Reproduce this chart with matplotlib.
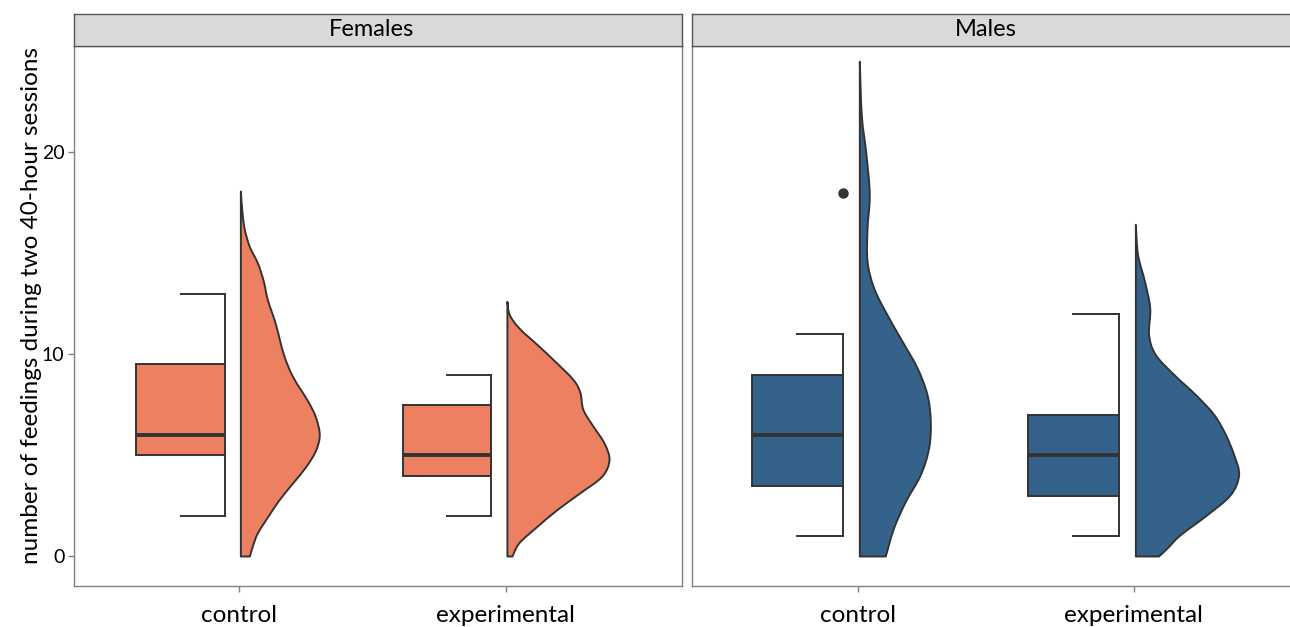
import matplotlib
matplotlib.use("Agg")
import matplotlib.pyplot as plt
from matplotlib.patches import Rectangle, PathPatch
from matplotlib.path import Path

plt.rcParams['font.family'] = ['Lato', 'DejaVu Sans']

# ---- data ----
panels = ["Females", "Males"]
groups = ["control", "experimental"]
fill_colors = {"Females": "#EE8062", "Males": "#35628A"}

# boxplot stats: (whisker low, q1, median, q3, whisker high)
box_stats = {
    ("Females", "control"): (2, 5, 6, 9.5, 13),
    ("Females", "experimental"): (2, 4, 5, 7.5, 9),
    ("Males", "control"): (1, 3.5, 6, 9, 11),
    ("Males", "experimental"): (1, 3, 5, 7, 12),
}
outliers = {
    ("Males", "control"): [18],
}

# half-violin outline: value levels and half-widths (x-axis units)
fc_y = [18.05, 17.0, 16.15, 15.3, 14.5, 13.6, 12.7, 11.5, 10.0, 8.9, 7.7,
        6.9, 6.0, 5.2, 4.4, 3.6, 2.8, 2.0, 1.15, 0.5, 0.0]
fc_w = [0.0, 0.006, 0.015, 0.034, 0.064, 0.086, 0.101, 0.131, 0.161, 0.195, 0.251,
        0.281, 0.296, 0.281, 0.244, 0.195, 0.146, 0.105, 0.064, 0.045, 0.034]
fe_y = [12.6, 11.94, 11.28, 10.46, 9.72, 8.73, 8.08, 7.25, 6.42, 5.6, 4.77,
        3.95, 3.13, 2.3, 1.47, 0.66, 0.0]
fe_w = [0.0, 0.009, 0.045, 0.113, 0.173, 0.248, 0.274, 0.285, 0.323, 0.364, 0.383,
        0.356, 0.274, 0.188, 0.113, 0.045, 0.019]
mc_y = [24.47, 21.83, 19.86, 17.88, 16.23, 14.58, 13.26, 11.94, 10.62, 9.31,
        7.99, 6.67, 5.35, 4.03, 2.71, 1.39, 0.0]
mc_w = [0.0, 0.007, 0.024, 0.036, 0.028, 0.028, 0.052, 0.1, 0.155, 0.209,
        0.245, 0.257, 0.251, 0.221, 0.167, 0.124, 0.094]
me_y = [16.4, 14.91, 13.59, 12.27, 10.95, 9.97, 8.98, 7.99, 7.0, 6.01, 5.02,
        4.03, 3.04, 2.05, 1.06, 0.4, 0.0]
me_w = [0.0, 0.008, 0.033, 0.052, 0.048, 0.072, 0.139, 0.217, 0.284, 0.326, 0.356,
        0.374, 0.344, 0.26, 0.163, 0.115, 0.084]
violins = {
    ("Females", "control"): (fc_y, fc_w),
    ("Females", "experimental"): (fe_y, fe_w),
    ("Males", "control"): (mc_y, mc_w),
    ("Males", "experimental"): (me_y, me_w),
}

y_label = "number of feedings during two 40-hour sessions"
y_ticks = [0, 10, 20]


def smooth_outline(pts):
    """Catmull-Rom curve through the outline points, as Bezier path codes."""
    verts = [pts[0]]
    codes = [Path.LINETO]
    for k in range(len(pts) - 1):
        p0 = pts[k - 1] if k > 0 else pts[k]
        p1, p2 = pts[k], pts[k + 1]
        p3 = pts[k + 2] if k + 2 < len(pts) else pts[k + 1]
        c1 = (p1[0] + (p2[0] - p0[0]) / 6, p1[1] + (p2[1] - p0[1]) / 6)
        c2 = (p2[0] - (p3[0] - p1[0]) / 6, p2[1] - (p3[1] - p1[1]) / 6)
        verts += [c1, c2, p2]
        codes += [Path.CURVE4] * 3
    return verts, codes


# ---- layout (pixel based, figure is 1290 x 627) ----
W, H = 1290, 627
fig = plt.figure(figsize=(W / 100, H / 100), dpi=100)

panel_px = {"Females": (74, 682), "Males": (692, 1299)}
xlims = {"Females": (0.381, 2.662), "Males": (0.399, 2.598)}
strip_text_x = {"Females": 0.489, "Males": 0.484}
top_px, bottom_px, strip_top_px = 46, 586, 14
line_col = "#333333"
frame_col = "#808080"
lw = 1.4

for panel in panels:
    x0, x1 = panel_px[panel]
    ax = fig.add_axes([x0 / W, (H - bottom_px) / H, (x1 - x0) / W, (bottom_px - top_px) / H])
    ax.set_xlim(*xlims[panel])
    ax.set_ylim(-1.46, 25.25)

    for i, grp in enumerate(groups):
        c = i + 1
        col = fill_colors[panel]
        lo, q1, med, q3, hi = box_stats[(panel, grp)]
        bl, br = c - 0.385, c - 0.053
        bm = (bl + br) / 2
        # whisker sits on the right edge of the box
        ax.plot([br, br], [lo, q1], color=line_col, lw=lw, zorder=2)
        ax.plot([br, br], [q3, hi], color=line_col, lw=lw, zorder=2)
        ax.plot([bm, br], [lo, lo], color=line_col, lw=lw, zorder=2)
        ax.plot([bm, br], [hi, hi], color=line_col, lw=lw, zorder=2)
        ax.add_patch(Rectangle((bl, q1), br - bl, q3 - q1, facecolor=col,
                               edgecolor=line_col, lw=lw, zorder=3))
        ax.plot([bl + 0.003, br - 0.003], [med, med], color=line_col, lw=2.8, zorder=4,
                solid_capstyle="butt")
        for o in outliers.get((panel, grp), []):
            ax.plot(br, o, "o", color=line_col, ms=6.5, zorder=5)

        # half violin
        vy, vw = violins[(panel, grp)]
        base = c + 0.007
        outline = [(base + w, y) for y, w in zip(vy, vw)]
        verts, codes = smooth_outline(outline)
        verts = [(base, vy[0])] + verts + [(base, vy[-1]), (base, vy[0])]
        codes = [Path.MOVETO] + codes + [Path.LINETO, Path.CLOSEPOLY]
        ax.add_patch(PathPatch(Path(verts, codes), facecolor=col, edgecolor=line_col,
                               lw=lw, joinstyle="round", zorder=3))

    ax.set_xticks([1, 2])
    ax.set_xticklabels(groups, fontsize=17.5)
    ax.tick_params(axis="x", length=4, width=1, color=frame_col, pad=10)
    if panel == "Females":
        ax.set_yticks(y_ticks)
        ax.tick_params(axis="y", length=4, width=1, color=frame_col, labelsize=14, pad=3)
        ax.set_ylabel(y_label, fontsize=17.5)
        ax.yaxis.set_label_coords(-0.052, 0.52)
    else:
        ax.set_yticks([])
    for sp in ax.spines.values():
        sp.set_color(frame_col)
        sp.set_linewidth(1.0)

    # facet strip
    sax = fig.add_axes([x0 / W, (H - top_px) / H, (x1 - x0) / W, (top_px - strip_top_px) / H])
    sax.set_facecolor("#D9D9D9")
    sax.set_xticks([])
    sax.set_yticks([])
    for sp in sax.spines.values():
        sp.set_color("#555555")
        sp.set_linewidth(1.0)
    sax.text(strip_text_x[panel], 0.5, panel, ha="center", va="center", fontsize=17,
             transform=sax.transAxes)

fig.savefig("out.png", dpi=100)
